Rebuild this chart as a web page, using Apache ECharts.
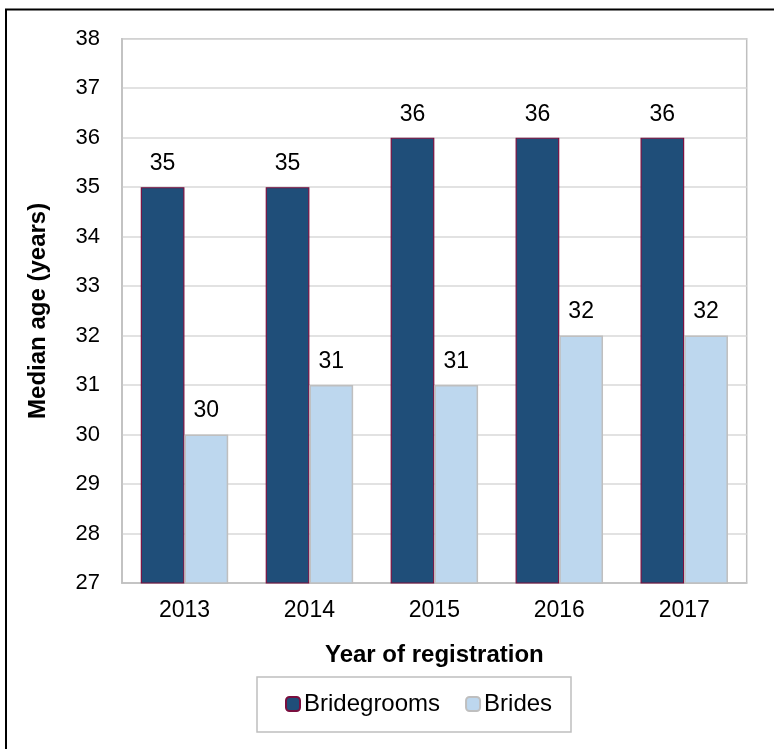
<!DOCTYPE html>
<html>
<head>
<meta charset="utf-8">
<script src="https://cdn.jsdelivr.net/npm/echarts@6/dist/echarts.min.js"></script>
<style>
html,body{margin:0;padding:0;background:#fff;}
#chart{width:774px;height:749px;}
</style>
</head>
<body>
<div id="chart"></div>
<script>
const years = ['2013', '2014', '2015', '2016', '2017'];
const bridegrooms = [35, 35, 36, 36, 36];
const brides = [30, 31, 31, 32, 32];
const yMin = 27, yMax = 38, yStep = 1;

const FONT = 'Arial, "Liberation Sans", sans-serif';
const chart = echarts.init(document.getElementById('chart'), null, {renderer: 'canvas'});

const labelCfg = {
  show: true, position: 'top', distance: 12,
  color: '#000', fontSize: 23, fontFamily: FONT
};

chart.setOption({
  animation: false,
  backgroundColor: '#fff',
  graphic: [
    { type: 'rect', z: 100, silent: true,
      shape: { x: 6, y: 9.5, width: 900, height: 900 },
      style: { fill: 'none', stroke: '#000', lineWidth: 2 } },
    { type: 'rect', z: 1, silent: true,
      shape: { x: 257, y: 677, width: 314, height: 55 },
      style: { fill: '#fff', stroke: '#BFBFBF', lineWidth: 1.5 } }
  ],
  grid: {
    left: 122, top: 38.7, right: 27.3, bottom: 166,
    show: true, borderColor: '#BFBFBF', borderWidth: 1.5, backgroundColor: 'transparent'
  },
  legend: {
    left: 285, top: 692, padding: 0,
    itemWidth: 14, itemHeight: 14, itemGap: 25,
    textStyle: { fontSize: 24, fontFamily: FONT, color: '#000', padding: [0, 0, 0, -1] },
    data: ['Bridegrooms', 'Brides']
  },
  xAxis: {
    type: 'category', data: years,
    axisLine: { show: true, lineStyle: { color: '#BFBFBF', width: 1.5 } },
    axisTick: { show: false },
    axisLabel: { color: '#000', fontSize: 23, fontFamily: FONT, margin: 16 },
    name: 'Year of registration', nameLocation: 'middle', nameGap: 60,
    nameTextStyle: { color: '#000', fontSize: 24, fontWeight: 'bold', fontFamily: FONT }
  },
  yAxis: {
    type: 'value', min: yMin, max: yMax, interval: yStep,
    axisLine: { show: true, lineStyle: { color: '#BFBFBF', width: 1.5 } },
    axisTick: { show: false },
    splitLine: { show: true, lineStyle: { color: '#D9D9D9', width: 1.5 } },
    axisLabel: { color: '#000', fontSize: 22, fontFamily: FONT, margin: 22 },
    name: 'Median age (years)', nameLocation: 'middle', nameGap: 72, nameRotate: 90,
    nameTextStyle: { color: '#000', fontSize: 24, fontWeight: 'bold', fontFamily: FONT }
  },
  series: [
    { name: 'Bridegrooms', type: 'bar', data: bridegrooms,
      barGap: '0%', barCategoryGap: '30%',
      itemStyle: { color: '#1F4E79', borderColor: '#7A0F3F', borderWidth: 1.2 },
      label: labelCfg },
    { name: 'Brides', type: 'bar', data: brides,
      itemStyle: { color: '#BDD7EE', borderColor: '#BFBFBF', borderWidth: 1.5 },
      label: labelCfg }
  ]
});
</script>
</body>
</html>
